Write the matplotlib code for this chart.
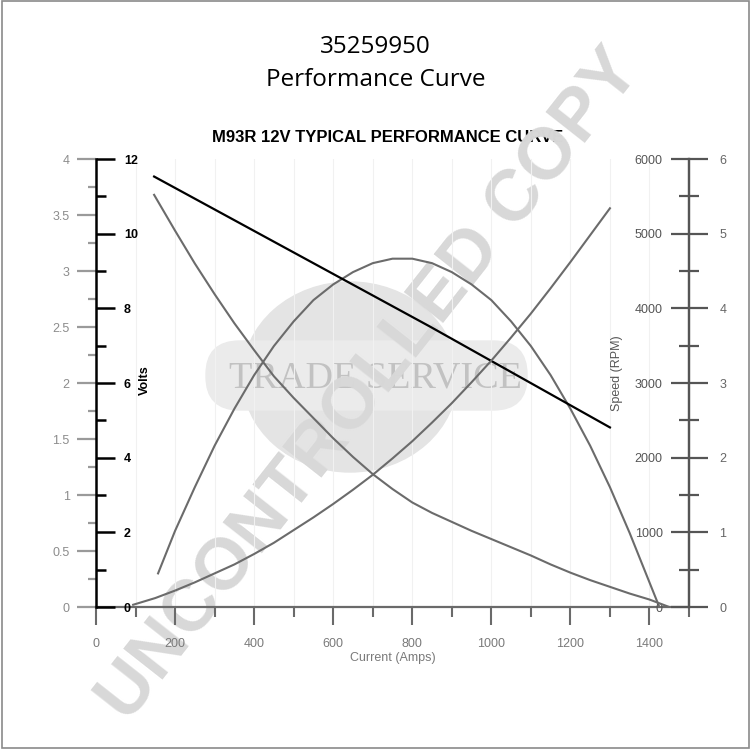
import numpy as np
import matplotlib
matplotlib.use('Agg')
import matplotlib.pyplot as plt
from matplotlib.patches import FancyBboxPatch, Ellipse, Rectangle
from matplotlib.ticker import MultipleLocator, FuncFormatter

plt.rcParams['font.family'] = ['Liberation Sans', 'DejaVu Sans']

# values (x = current in amps)
volt_amps = [147, 845, 1300]
volts = [11.53, 7.51, 4.81]

speed_amps = [147, 200, 250, 300, 350, 400, 450, 500, 550, 600, 650, 700, 750, 800,
              850, 900, 950, 1000, 1050, 1100, 1150, 1200, 1250, 1300, 1350, 1400, 1450]
speed_rpm = [5520, 5040, 4600, 4190, 3800, 3440, 3090, 2800, 2530, 2260, 2010, 1780, 1580, 1400,
             1260, 1140, 1020, 910, 800, 690, 570, 460, 360, 270, 180, 100, 0]

power_amps = [157, 200, 250, 300, 350, 400, 450, 500, 550, 600, 650, 700, 750, 800,
              850, 900, 950, 1000, 1050, 1100, 1150, 1200, 1250, 1300, 1350, 1400, 1425]
power = [0.30, 0.68, 1.07, 1.44, 1.77, 2.07, 2.33, 2.55, 2.74, 2.88, 2.99, 3.07, 3.11, 3.11,
         3.07, 2.99, 2.88, 2.74, 2.55, 2.33, 2.07, 1.77, 1.44, 1.07, 0.66, 0.22, 0.0]

torque_amps = [94, 150, 200, 250, 300, 350, 400, 450, 500, 550, 600, 650, 700, 750,
               800, 850, 900, 950, 1000, 1050, 1100, 1150, 1200, 1250, 1300]
torque = [0.03, 0.12, 0.22, 0.33, 0.45, 0.57, 0.71, 0.86, 1.03, 1.20, 1.38, 1.57, 1.77, 1.99,
          2.22, 2.47, 2.73, 3.01, 3.30, 3.61, 3.93, 4.27, 4.62, 4.98, 5.34]

x_ticks = [0, 200, 400, 600, 800, 1000, 1200, 1400]

curve_grey = '#6b6b6b'

fig = plt.figure(figsize=(7.5, 7.49), dpi=100)
pos = [96 / 750, 142 / 749, 593 / 750, 448 / 749]

# outer left axis 0-4 (power) is the host axis
ax = fig.add_axes(pos)
ax.set_facecolor('none')
ax.set_xlim(0, 1500)
ax.set_ylim(0, 4)
for s in ['top', 'right', 'left']:
    ax.spines[s].set_visible(False)
ax.spines['bottom'].set_color('#6a6a6a')
ax.spines['bottom'].set_linewidth(1.6)
ax.set_xticks(x_ticks)
ax.xaxis.set_minor_locator(MultipleLocator(100))
ax.tick_params(axis='x', which='major', direction='out', length=13, width=1.5,
               color='#6a6a6a', labelsize=9, labelcolor='#7a7a7a', pad=9)
ax.tick_params(axis='x', which='minor', direction='out', length=7, width=1.5, color='#6a6a6a')
ax.set_xlabel('Current (Amps)', fontsize=9, color='#7a7a7a', labelpad=2)
ax.yaxis.set_major_locator(MultipleLocator(0.5))
ax.yaxis.set_minor_locator(MultipleLocator(0.25))
ax.yaxis.set_major_formatter(FuncFormatter(lambda v, p: f'{v:g}'))
ax.tick_params(axis='y', which='major', direction='out', length=14, width=1.6,
               color='#9a9a9a', labelsize=9, labelcolor='#8c8c8c', pad=5)
ax.tick_params(axis='y', which='minor', direction='out', length=6, width=1.6, color='#9a9a9a')
ax.grid(axis='x', which='both', color='#f1f1f1', lw=0.8)
ax.set_axisbelow(True)

# volts axis, black spine on the left, ticks pointing inwards
axv = ax.twinx()
axv.set_ylim(0, 12)
for s in ['top', 'bottom', 'left']:
    axv.spines[s].set_visible(False)
axv.spines['right'].set_position(('axes', 0))
axv.spines['right'].set_color('black')
axv.spines['right'].set_linewidth(1.8)
axv.set_yticks([0, 2, 4, 6, 8, 10, 12], labels=['0', '2', '4', '6', '8', '10', '12'], fontweight='bold')
axv.yaxis.set_minor_locator(MultipleLocator(1))
axv.tick_params(axis='y', which='major', direction='out', length=14, width=1.8,
               color='black', labelsize=9, labelcolor='black', pad=6)
axv.tick_params(axis='y', which='minor', direction='out', length=7.5, width=1.8, color='black')
axv.text(0.083, 0.507, 'Volts', transform=axv.transAxes, rotation=90, fontsize=9,
         fontweight='bold', ha='center', va='center')

# speed axis, on the right spine with ticks pointing inwards
axs = ax.twinx()
axs.set_ylim(0, 6000)
for s in ['top', 'bottom', 'right']:
    axs.spines[s].set_visible(False)
axs.spines['left'].set_visible(True)
axs.spines['left'].set_position(('axes', 1))
axs.spines['left'].set_color('#555555')
axs.spines['left'].set_linewidth(1.6)
axs.yaxis.set_ticks_position('left')
axs.yaxis.set_major_locator(MultipleLocator(1000))
axs.yaxis.set_minor_locator(MultipleLocator(500))
axs.tick_params(axis='y', which='major', direction='out', length=13, width=1.6,
               color='#555555', labelsize=9, labelcolor='#555555', pad=6)
axs.tick_params(axis='y', which='minor', direction='out', length=7, width=1.6, color='#555555')
axs.text(0.879, 0.522, 'Speed (RPM)', transform=axs.transAxes, rotation=90, fontsize=9,
         color='#555555', ha='center', va='center')

# outer right axis 0-6 (torque)
axt = ax.twinx()
axt.set_ylim(0, 6)
for s in ['top', 'bottom', 'left']:
    axt.spines[s].set_visible(False)
axt.spines['right'].set_color('#555555')
axt.spines['right'].set_linewidth(1.6)
axt.yaxis.set_major_locator(MultipleLocator(1))
axt.yaxis.set_minor_locator(MultipleLocator(0.5))
axt.tick_params(axis='y', which='major', direction='out', length=14, width=1.6,
               color='#555555', labelsize=9, labelcolor='#666666', pad=8)
axt.tick_params(axis='y', which='minor', direction='out', length=7, width=1.6, color='#555555')

# curves
ax.plot(power_amps, power, color=curve_grey, lw=1.5)
axt.plot(torque_amps, torque, color=curve_grey, lw=1.5)
axs.plot(speed_amps, speed_rpm, color=curve_grey, lw=1.5)
axv.plot(volt_amps, volts, color='black', lw=1.6)

# titles
fig.text(0.501, 0.937, '35259950', ha='center', va='center', fontsize=17.5, family='Open Sans')
fig.text(0.501, 0.893, 'Performance Curve', ha='center', va='center', fontsize=17.5, family='Open Sans')
fig.text(0.517, 0.816, 'M93R 12V TYPICAL PERFORMANCE CURVE', ha='center', va='center',
         fontsize=12, fontweight='bold', zorder=-3)

# trade service logo and watermark, under the axes
fig.patches.append(Ellipse((350 / 750, 1 - 377 / 749), 215 / 750, 190 / 749,
                           transform=fig.transFigure, color='#e4e4e4', zorder=-4))
fig.patches.append(FancyBboxPatch((206 / 750, 1 - 410 / 749), 321 / 750, 69 / 749,
                                  boxstyle='round,pad=0,rounding_size=0.045',
                                  transform=fig.transFigure, color='#ebebeb', zorder=-4))
fig.text(375 / 750, 1 - 378 / 749, 'TRADE SERVICE', ha='center', va='center', fontsize=27.5,
         family='Liberation Serif', color='#c2c2c2', zorder=-3)
fig.text(0.493, 0.486, 'UNCONTROLLED COPY', ha='center', va='center', rotation=51.8,
         rotation_mode='anchor', fontsize=52, fontweight='bold', color='#d8d8d8', zorder=-1)

fig.patches.append(Rectangle((0.002, 0.002), 0.996, 0.996, transform=fig.transFigure,
                             fill=False, edgecolor='#8a8a8a', lw=1.2))

fig.savefig('out.png', dpi=100)
